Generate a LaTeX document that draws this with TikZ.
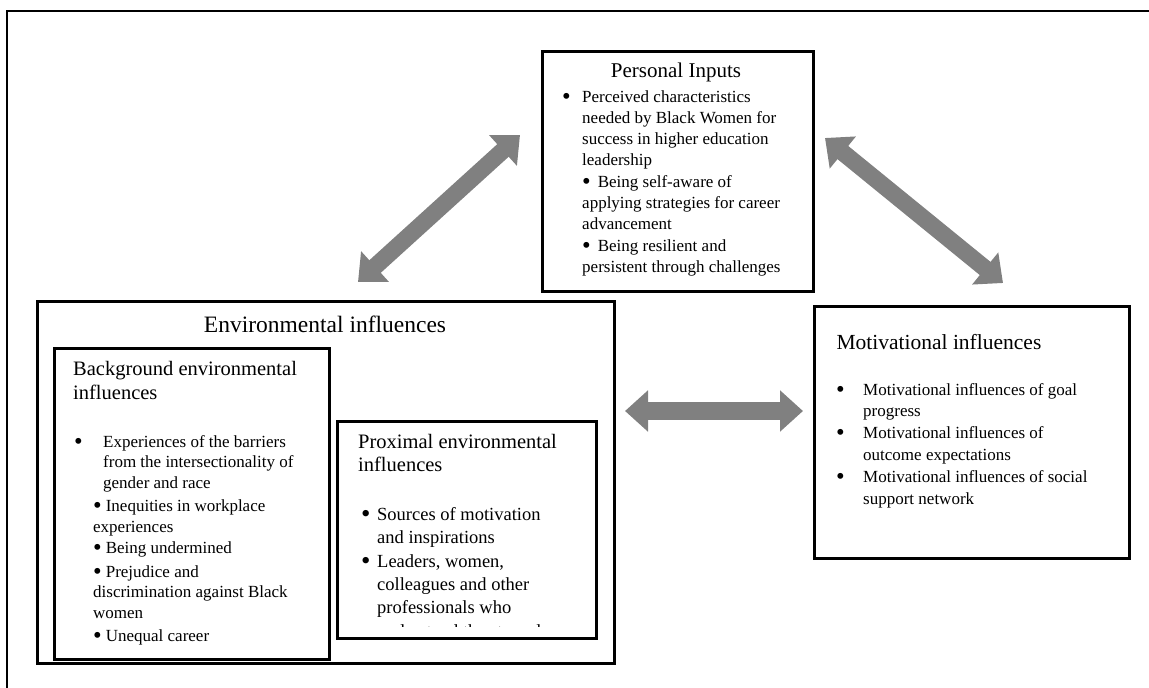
\documentclass[tikz,border=0pt]{standalone}
\usepackage{fontspec}
\setmainfont{Liberation Serif}
\usetikzlibrary{arrows.meta}
\newcommand{\bul}{\raisebox{-2pt}{\scalebox{1.45}{•}}}

\begin{document}
\begin{tikzpicture}[x=1pt, y=-1pt,
  panel/.style={draw, line width=2.6pt, anchor=north west, inner sep=0pt},
  bodytext/.style={anchor=north west, align=left, inner sep=0pt},
  bigarrow/.style={draw=gray, line width=17pt, {Triangle[width=40pt,length=23pt]}-{Triangle[width=40pt,length=23pt]}}]
  \useasboundingbox (0,0) rectangle (1149,688);
  % Moldura externa
  \draw[line width=2.6pt] (7,688) -- (7,11) -- (1149,11);
  % Caixas
  \node[panel, minimum width=271pt, minimum height=240pt] (personal) at (541,50) {};
  \node[panel, minimum width=577pt, minimum height=362pt] (env) at (36,300) {};
  \node[panel, minimum width=275pt, minimum height=311pt] (backgr) at (53,347) {};
  \node[panel, minimum width=259pt, minimum height=217pt] (proximal) at (336,420) {};
  \node[panel, minimum width=315pt, minimum height=252pt] (motiv) at (813,305) {};
  % Titulos
  \node[font=\fontsize{21}{25}\selectfont, anchor=base] (ptitle) at (676,77) {Personal Inputs};
  \node[font=\fontsize{23.5}{28}\selectfont, anchor=base] (etitle) at (325,332) {Environmental influences};
  \node[bodytext, font=\fontsize{20.5}{24.3}\selectfont] (btitle) at (73,361) {Background environmental\\influences};
  \node[bodytext, font=\fontsize{20.5}{23.3}\selectfont] (xtitle) at (358,434) {Proximal environmental\\influences};
  \node[font=\fontsize{21.5}{26}\selectfont, anchor=base west] (mtitle) at (833,349) {Motivational influences};
  % Textos
  \node[bodytext, font=\fontsize{17}{21}\selectfont] (pbody) at (562,91) {%
    \makebox[20pt][l]{\bul}Perceived characteristics\\
    \hspace*{20pt}needed by Black Women for\\
    \hspace*{20pt}success in higher education\\
    \hspace*{20pt}leadership\\[1pt]
    \hspace*{20pt}\bul\hspace{7pt}Being self-aware of\\
    \hspace*{20pt}applying strategies for career\\
    \hspace*{20pt}advancement\\[1pt]
    \hspace*{20pt}\bul\hspace{7pt}Being resilient and\\
    \hspace*{20pt}persistent through challenges};
  \node[bodytext, font=\fontsize{17}{20.5}\selectfont] (bbody) at (74,435) {%
    \makebox[29pt][l]{\bul}Experiences of the barriers\\
    \hspace*{29pt}from the intersectionality of\\
    \hspace*{29pt}gender and race\\[3pt]
    \hspace*{19pt}\bul\hspace{4pt}Inequities in workplace\\
    \hspace*{19pt}experiences\\[1pt]
    \hspace*{19pt}\bul\hspace{4pt}Being undermined\\[3pt]
    \hspace*{19pt}\bul\hspace{4pt}Prejudice and\\
    \hspace*{19pt}discrimination against Black\\
    \hspace*{19pt}women\\[3pt]
    \hspace*{19pt}\bul\hspace{4pt}Unequal career};
  \begin{scope}
    \clip (336,420) rectangle (595,626);
    \node[bodytext, font=\fontsize{18.5}{23.4}\selectfont] (xbody) at (361,507) {%
      \makebox[16pt][l]{\bul}Sources of motivation\\
      \hspace*{16pt}and inspirations\\
      \makebox[16pt][l]{\bul}Leaders, women,\\
      \hspace*{16pt}colleagues and other\\
      \hspace*{16pt}professionals who\\
      \hspace*{16pt}understand the struggles};
  \end{scope}
  \node[bodytext, font=\fontsize{17}{21.8}\selectfont] (mbody) at (836,383) {%
    \makebox[27pt][l]{\bul}Motivational influences of goal\\
    \hspace*{27pt}progress\\
    \makebox[27pt][l]{\bul}Motivational influences of\\
    \hspace*{27pt}outcome expectations\\
    \makebox[27pt][l]{\bul}Motivational influences of social\\
    \hspace*{27pt}support network};
  % Setas
  \coordinate (envtip) at (358,282);
  \coordinate (pertipl) at (520,135);
  \coordinate (pertipr) at (825,138);
  \coordinate (mottip) at (1003,283);
  \coordinate (envside) at (625,411);
  \coordinate (motside) at (803,411);
  \draw[bigarrow] (envtip) -- (pertipl);
  \draw[bigarrow] (pertipr) -- (mottip);
  \draw[bigarrow, line width=18pt] (envside) -- (motside);
\end{tikzpicture}
\end{document}
